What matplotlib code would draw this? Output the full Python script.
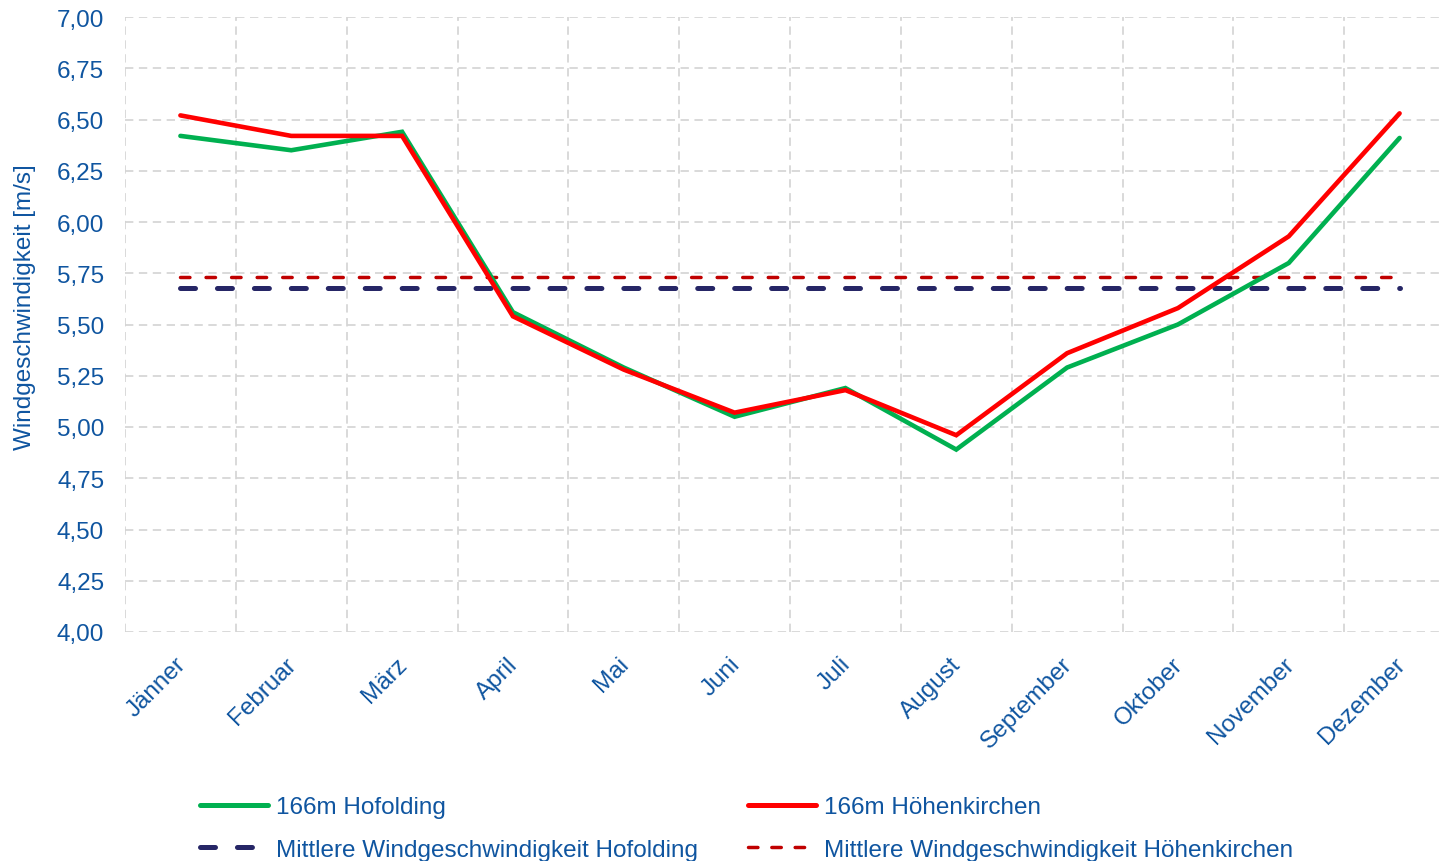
import matplotlib
matplotlib.use("Agg")
import matplotlib.pyplot as plt
import matplotlib.transforms as mtransforms
from matplotlib.lines import Line2D

plt.rcParams['font.family'] = ['Liberation Sans', 'DejaVu Sans']
plt.rcParams['lines.scale_dashes'] = False

months = ["Jänner", "Februar", "März", "April", "Mai", "Juni", "Juli",
          "August", "September", "Oktober", "November", "Dezember"]
hofolding = [6.42, 6.35, 6.44, 5.56, 5.29, 5.05, 5.19, 4.89, 5.29, 5.50, 5.80, 6.41]
hoehenkirchen = [6.52, 6.42, 6.42, 5.54, 5.28, 5.07, 5.18, 4.96, 5.36, 5.58, 5.93, 6.53]
mean_hofolding = 5.68
mean_hoehenkirchen = 5.73
yticks = [4.00, 4.25, 4.50, 4.75, 5.00, 5.25, 5.50, 5.75, 6.00, 6.25, 6.50, 6.75, 7.00]

TXT = '#0f55a0'
GREEN = '#00b050'
RED = '#ff0000'
NAVY = '#262666'
DRED = '#c00000'
GRID = '#d3d3d3'
FS = 17.5

W, H = 1440, 862
fig = plt.figure(figsize=(W / 100, H / 100), dpi=100)
ax = fig.add_axes([125 / W, (H - 633) / H, 1330 / W, 615 / H])

x = list(range(len(months)))
ax.set_xlim(-0.5, len(months) - 0.5)
ax.set_ylim(4.0, 7.0)

# grid
for xb in [i - 0.5 for i in range(len(months) + 1)]:
    ax.axvline(xb, color=GRID, lw=1.2, dashes=(6, 4), zorder=0)
for yv in yticks:
    ax.axhline(yv, color=GRID, lw=1.2, dashes=(6, 4), zorder=0)

ax.plot(x, hofolding, color=GREEN, lw=3.3, solid_capstyle='round',
        solid_joinstyle='miter', zorder=3)
ax.plot(x, hoehenkirchen, color=RED, lw=3.3, solid_capstyle='round',
        solid_joinstyle='miter', zorder=4)
ax.plot([x[0], x[-1]], [mean_hofolding] * 2, color=NAVY, lw=3.6,
        dashes=(10.8, 15.8), dash_capstyle='round', zorder=2)
ax.plot([x[0], x[-1]], [mean_hoehenkirchen] * 2, color=DRED, lw=2.5,
        dashes=(6.8, 11.6), dash_capstyle='round', zorder=2)

for s in ax.spines.values():
    s.set_visible(False)

ax.set_yticks(yticks)
ax.set_yticklabels([f"{v:.2f}".replace('.', ',') for v in yticks])
ax.tick_params(axis='y', length=0, pad=15, labelsize=FS, labelcolor=TXT)
ax.set_xticks(x)
ax.set_xticklabels(months, rotation=45, ha='right', rotation_mode='anchor')
ax.tick_params(axis='x', length=0, pad=15, labelsize=FS, labelcolor=TXT)
offset = mtransforms.ScaledTranslation(-6 / 100, 0, fig.dpi_scale_trans)
for lab in ax.get_xticklabels():
    lab.set_transform(lab.get_transform() + offset)

fig.text(25 / W, (H - 307) / H, "Windgeschwindigkeit [m/s]", rotation=90,
         ha='center', va='center', fontsize=FS, color=TXT)

h1 = Line2D([], [], color=GREEN, lw=3.6, solid_capstyle='round')
h2 = Line2D([], [], color=RED, lw=3.6, solid_capstyle='round')
h3 = Line2D([], [], color=NAVY, lw=3.6, dashes=(10.8, 15.8), dash_capstyle='round')
h4 = Line2D([], [], color=DRED, lw=2.5, dashes=(6.8, 10.0), dash_capstyle='round')

common = dict(frameon=False, fontsize=FS, labelcolor=TXT, handlelength=2.8,
              handletextpad=0.33, borderpad=0, borderaxespad=0, labelspacing=0.85,
              loc='upper left')
leg1 = fig.legend([h1, h3], ["166m Hofolding", "Mittlere Windgeschwindigkeit Hofolding"],
                  bbox_to_anchor=(200 / W, (H - 797) / H), **common)
leg2 = fig.legend([h2, h4], ["166m Höhenkirchen", "Mittlere Windgeschwindigkeit Höhenkirchen"],
                  bbox_to_anchor=(748 / W, (H - 797) / H), **common)

fig.savefig("out.png", dpi=100)
